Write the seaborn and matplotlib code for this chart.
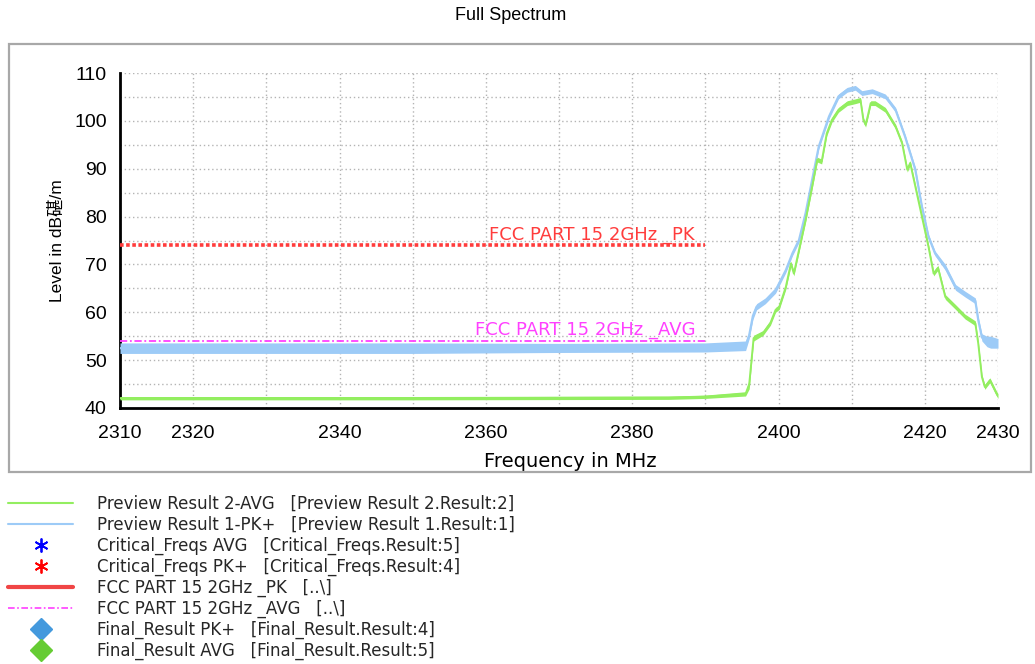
import matplotlib
matplotlib.use("Agg")
import matplotlib.pyplot as plt
from matplotlib.lines import Line2D
from matplotlib.patches import Rectangle
from matplotlib.ticker import MultipleLocator
import numpy as np
import pandas as pd
import seaborn as sns

# ---------------- data ----------------
title = "Full Spectrum"
x_label = "Frequency in MHz"
y_label = "Level in dB碪/m"

x_ticks = [2310, 2320, 2330, 2340, 2350, 2360, 2370, 2380, 2390, 2400, 2410, 2420, 2430]
x_tick_labels = ["2310", "2320", "", "2340", "", "2360", "", "2380", "", "2400", "", "2420", "2430"]
y_ticks = [40, 50, 60, 70, 80, 90, 100, 110]

# Preview Result 1-PK+ (blue): frequency, lower and upper edge of the trace band
pk_freq = [2310, 2330, 2350, 2370, 2390, 2395.5, 2396.0, 2396.5, 2397.0, 2398.2, 2399.6,
           2401.0, 2401.9, 2402.8, 2403.7, 2404.6, 2405.5, 2406.9, 2408.2, 2409.4, 2410.5,
           2411.4, 2412.8, 2414.6, 2416.0, 2417.3, 2418.7, 2419.6, 2420.5, 2421.4, 2422.8,
           2424.2, 2425.5, 2426.9, 2427.3, 2427.8, 2428.5, 2429.0, 2430]
pk_low = [51.4, 51.4, 51.4, 51.6, 51.7, 52.0, 54.5, 58.5, 60.5, 61.8, 64.0,
          68.3, 71.8, 74.6, 80.2, 87.2, 94.1, 100.4, 104.6, 106.0, 106.4,
          105.3, 105.7, 104.6, 101.8, 96.2, 89.3, 81.6, 75.3, 71.8, 68.8,
          64.6, 63.2, 61.8, 57.8, 54.0, 52.8, 52.5, 52.5]
pk_high = [53.6, 53.6, 53.6, 53.5, 53.6, 54.0, 56.0, 60.0, 61.8, 63.0, 65.2,
           69.3, 72.8, 75.6, 81.2, 88.2, 95.1, 101.4, 105.6, 107.0, 107.4,
           106.3, 106.7, 105.6, 102.8, 97.2, 90.3, 82.6, 76.3, 72.8, 70.0,
           65.8, 64.4, 63.0, 59.0, 55.5, 55.0, 55.0, 54.5]

# Preview Result 2-AVG (green)
avg_freq = [2310, 2350, 2385, 2390, 2395.5, 2396.0, 2396.6, 2397.9, 2398.9, 2399.6, 2400.1,
            2401.0, 2401.7, 2402.1, 2402.8, 2403.7, 2404.6, 2405.3, 2405.9, 2406.6, 2407.3,
            2408.2, 2409.4, 2410.5, 2411.2, 2411.6, 2411.9, 2412.2, 2412.6, 2413.2, 2414.6,
            2416.0, 2416.9, 2417.6, 2418.0, 2418.7, 2419.6, 2420.5, 2421.2, 2421.8, 2422.8,
            2424.2, 2425.5, 2426.9, 2427.3, 2427.8, 2428.2, 2428.9, 2429.8, 2430]
avg_low = [41.7, 41.7, 41.8, 42.0, 42.5, 44.0, 54.0, 55.2, 57.3, 60.0, 60.6,
           64.8, 69.7, 67.6, 72.5, 78.8, 85.8, 91.4, 91.0, 96.9, 99.7,
           101.8, 103.2, 103.6, 103.9, 99.7, 98.7, 100.5, 103.2, 103.2, 101.8,
           98.3, 94.8, 89.3, 90.7, 85.8, 79.5, 73.2, 67.6, 68.8, 62.7,
           60.6, 58.6, 57.2, 53.0, 46.0, 43.9, 45.3, 42.5, 42.0]
avg_high = [42.4, 42.4, 42.5, 42.7, 43.4, 46.0, 55.2, 56.2, 58.3, 61.0, 61.6,
            65.8, 70.7, 68.6, 73.5, 79.8, 86.8, 92.4, 92.0, 97.9, 100.7,
            102.8, 104.2, 104.6, 104.9, 100.7, 99.7, 101.5, 104.2, 104.2, 102.8,
            99.3, 95.8, 90.3, 91.7, 86.8, 80.5, 74.2, 68.6, 69.8, 63.7,
            61.6, 59.6, 58.2, 54.0, 47.0, 44.9, 46.3, 43.5, 43.0]

# Limit lines
limit_freq = [2310, 2390]
limit_pk = [74, 74]
limit_avg = [54, 54]
limit_pk_label = "FCC PART 15 2GHz _PK"
limit_avg_label = "FCC PART 15 2GHz _AVG"

legend_labels = [
    "Preview Result 2-AVG   [Preview Result 2.Result:2]",
    "Preview Result 1-PK+   [Preview Result 1.Result:1]",
    "Critical_Freqs AVG   [Critical_Freqs.Result:5]",
    "Critical_Freqs PK+   [Critical_Freqs.Result:4]",
    "FCC PART 15 2GHz _PK   [..\\]",
    "FCC PART 15 2GHz _AVG   [..\\]",
    "Final_Result PK+   [Final_Result.Result:4]",
    "Final_Result AVG   [Final_Result.Result:5]",
]

# ---------------- styling ----------------
C_GREEN = "#93ee60"
C_BLUE = "#9dcbf7"
C_RED = "#ff3c3c"
C_MAG = "#ff40ff"

sns.set_theme(style="white")
plt.rcParams["font.family"] = ["Liberation Sans", "Noto Sans CJK JP", "DejaVu Sans"]

W, H = 1035, 664
fig = plt.figure(figsize=(W / 100, H / 100), dpi=100)
fig.patch.set_facecolor("white")

# outer frame
fig.patches.append(Rectangle((9 / W, 1 - 472 / H), (1031 - 9) / W, (472 - 44) / H,
                             transform=fig.transFigure, fill=False,
                             edgecolor="#a8a8a8", linewidth=1.6, zorder=0))

ax = fig.add_axes([120 / W, 1 - 408 / H, (998 - 120) / W, (408 - 73) / H])
ax.set_facecolor("white")

pk_df = pd.DataFrame({"freq": pk_freq, "low": pk_low, "high": pk_high})
pk_df["level"] = (pk_df["low"] + pk_df["high"]) / 2
avg_df = pd.DataFrame({"freq": avg_freq, "low": avg_low, "high": avg_high})
avg_df["level"] = (avg_df["low"] + avg_df["high"]) / 2

# limit lines
ax.plot(limit_freq, limit_pk, color=C_RED, lw=2.6, ls=(0, (1, 0.7)), zorder=3)
ax.plot(limit_freq, limit_avg, color=C_MAG, lw=1.3, ls=(0, (4, 1.5, 1, 1.5)), zorder=3)

# traces
ax.fill_between(pk_df["freq"], pk_df["low"], pk_df["high"], color=C_BLUE, lw=0, zorder=4)
sns.lineplot(data=pk_df, x="freq", y="level", color=C_BLUE, lw=1.6, ax=ax, zorder=4)
ax.fill_between(avg_df["freq"], avg_df["low"], avg_df["high"], color=C_GREEN, lw=0, zorder=5)
sns.lineplot(data=avg_df, x="freq", y="level", color=C_GREEN, lw=1.4, ax=ax, zorder=5)

# limit labels
ax.text(2388.6, limit_pk[0] + 0.3, limit_pk_label, color=C_RED, ha="right", va="bottom",
        fontsize=13, family="DejaVu Sans", zorder=6)
ax.text(2388.6, limit_avg[0] + 0.5, limit_avg_label, color=C_MAG, ha="right", va="bottom",
        fontsize=13, family="DejaVu Sans", zorder=6)

# axes
ax.set_xlim(2310, 2430)
ax.set_ylim(40, 110)
ax.set_xticks(x_ticks)
ax.set_xticklabels(x_tick_labels)
ax.set_yticks(y_ticks)
ax.yaxis.set_minor_locator(MultipleLocator(5))
ax.grid(True, which="both", color="#b4b4b4", lw=1.0, ls=(0, (1, 2)))
ax.set_axisbelow(True)
for s in ["top", "right"]:
    ax.spines[s].set_visible(False)
for s in ["left", "bottom"]:
    ax.spines[s].set_color("black")
    ax.spines[s].set_linewidth(2)
ax.tick_params(axis="both", which="both", direction="inout", length=11, width=1.6,
               colors="black", labelsize=14, pad=4)
ax.tick_params(axis="x", pad=7)
ax.set_xlabel(x_label, fontsize=14, family="DejaVu Sans", color="black")
ax.set_ylabel(y_label, fontsize=12.5, color="black")
ax.xaxis.set_label_coords(0.513, -0.13)
ax.yaxis.set_label_coords(-0.063, 0.5)

fig.text(511 / W, 1 - 16 / H, title, ha="center", va="center", fontsize=13, color="black")

# legend
handles = [
    Line2D([], [], color=C_GREEN, lw=1.5),
    Line2D([], [], color=C_BLUE, lw=1.5),
    Line2D([], [], color="blue", marker=(6, 2, 0), ms=10, mew=1.3, ls="none"),
    Line2D([], [], color="red", marker=(6, 2, 0), ms=10, mew=1.3, ls="none"),
    Line2D([], [], color="#f04545", lw=3),
    Line2D([], [], color=C_MAG, lw=1.2, ls=(0, (4, 1.5, 1, 1.5))),
    Line2D([], [], color="#4499dd", marker="D", ms=11, ls="none"),
    Line2D([], [], color="#66cc33", marker="D", ms=11, ls="none"),
]
fs = 12
fig.legend(handles, legend_labels, loc="upper left", bbox_to_anchor=(8 / W, 1 - 495 / H),
           frameon=False, prop={"family": "DejaVu Sans", "size": fs},
           handlelength=65 / (fs * 100 / 72), handletextpad=24 / (fs * 100 / 72),
           labelspacing=0.17, borderpad=0, borderaxespad=0, markerscale=1.0)

fig.savefig("out.png", dpi=100, facecolor="white")
